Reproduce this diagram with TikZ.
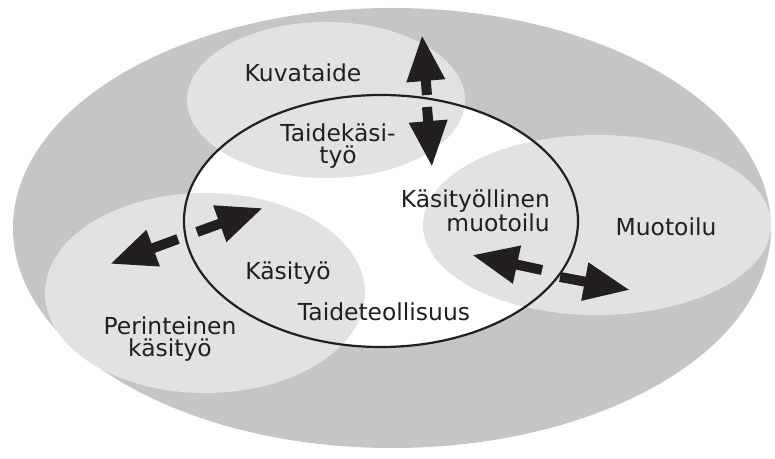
\documentclass[tikz,border=0pt]{standalone}
\usepackage{fontspec}
\setmainfont{DejaVu Sans}
\usetikzlibrary{shapes.geometric,arrows.meta}
\definecolor{outergray}{HTML}{C4C5C7}
\definecolor{innergray}{HTML}{E1E2E4}
\definecolor{ink}{HTML}{231F20}
\begin{document}
\begin{tikzpicture}[x=1bp,y=-1bp,
  blob/.style={ellipse,inner sep=0pt,outer sep=0pt,fill=innergray},
  lbl/.style={font=\fontsize{23.5}{22.5}\selectfont,text=ink,align=center,inner sep=0pt},
  bigarrow/.style={line width=10bp,draw=ink,-{Triangle[length=46bp,width=36bp,fill=ink]}}]
\useasboundingbox (0,0) rectangle (775,459);
\node[ellipse,inner sep=0pt,fill=outergray,minimum width=758bp,minimum height=440bp] (world) at (392,228) {};
\node[ellipse,inner sep=0pt,fill=white,minimum width=394bp,minimum height=252bp] (core) at (381,221) {};
\node[blob,minimum width=278bp,minimum height=156bp] (kuva) at (326,100) {};
\node[blob,minimum width=348bp,minimum height=180bp] (muoto) at (597,225) {};
\node[blob,minimum width=320bp,minimum height=200bp] (perin) at (205,293) {};
\node[ellipse,draw=ink,line width=2.2bp,inner sep=0pt,minimum width=394bp,minimum height=252bp] (coreline) at (core.center) {};
% arrows
\coordinate (vA1) at (427,95);  \coordinate (vA2) at (422,35);
\coordinate (vB1) at (427,107); \coordinate (vB2) at (432,167);
\coordinate (lA1) at (178,239); \coordinate (lA2) at (110,264);
\coordinate (lB1) at (197,232); \coordinate (lB2) at (263,208);
\coordinate (rA1) at (542,270); \coordinate (rA2) at (472,255);
\coordinate (rB1) at (560,277); \coordinate (rB2) at (630,290);
\draw[bigarrow] (vA1) -- (vA2);
\draw[bigarrow] (vB1) -- (vB2);
\draw[bigarrow] (lA1) -- (lA2);
\draw[bigarrow] (lB1) -- (lB2);
\draw[bigarrow] (rA1) -- (rA2);
\draw[bigarrow] (rB1) -- (rB2);
% labels
\node[lbl] (tKuva) at (303,73) {Kuvataide};
\node[lbl] (tTk) at (338,146) {Taidekäsi-\\työ};
\node[lbl,anchor=east,align=right] (tKm) at (550,211) {Käsityöllinen\\muotoilu};
\node[lbl] (tMuoto) at (666,227) {Muotoilu};
\node[lbl] (tKas) at (288,273) {Käsityö};
\node[lbl] (tTaide) at (384,312) {Taideteollisuus};
\node[lbl] (tPerin) at (170,339) {Perinteinen\\käsityö};
\end{tikzpicture}
\end{document}
